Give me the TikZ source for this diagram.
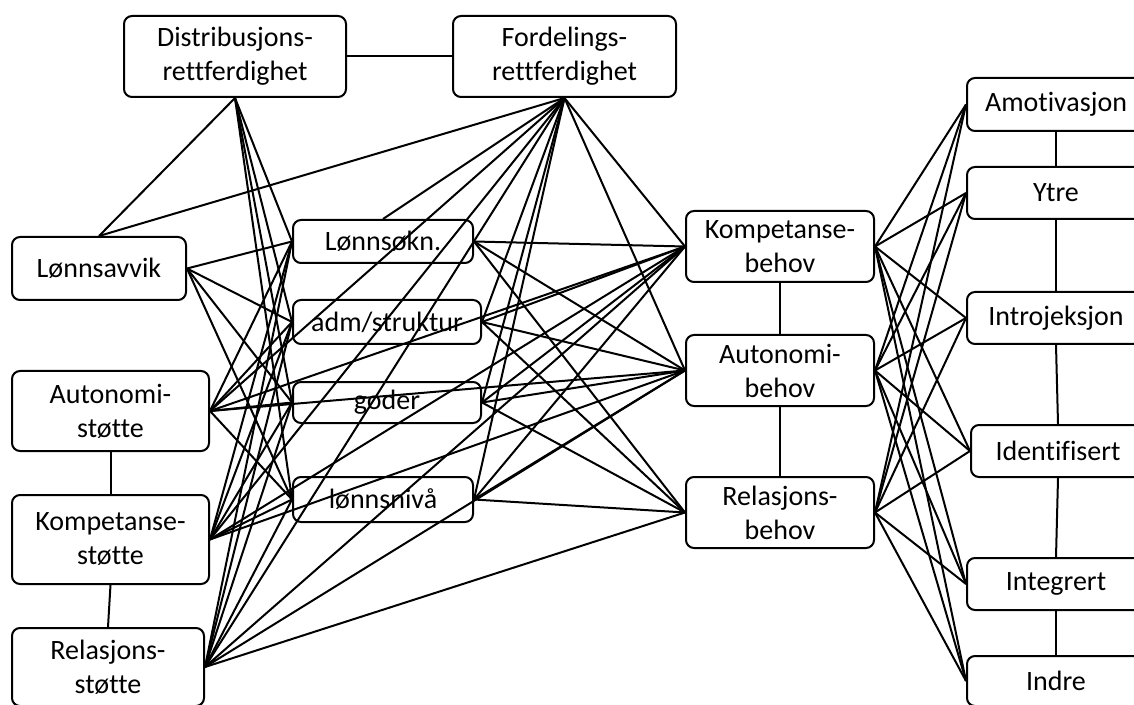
\documentclass[tikz,border=0pt]{standalone}
\usepackage{fontspec}
\setmainfont{Carlito}[Ligatures=NoCommon]
\begin{document}
\begin{tikzpicture}[x=0.5pt,y=-0.5pt,
  box/.style={draw, rounded corners=4pt, line width=1pt, align=center, inner sep=0pt,
    font=\fontsize{14}{17}\selectfont},
  link/.style={line width=1pt}]
\useasboundingbox (0,0) rectangle (1134,705);
\fill[white] (0,0) rectangle (1134,705);
\clip (0,0) rectangle (1134,705);
% top
\node[box, minimum width=111pt, minimum height=40.5pt] (D) at (235,56.5) {Distribusjons-\\rettferdighet};
\node[box, minimum width=111.5pt, minimum height=40.5pt] (F) at (564.5,56.5) {Fordelings-\\rettferdighet};
% left column
\node[box, minimum width=87pt, minimum height=31.5pt] (Lav) at (99,268.5) {Lønnsavvik};
\node[box, minimum width=98.5pt, minimum height=40pt] (AS) at (110.5,411) {Autonomi-\\støtte};
\node[box, minimum width=98.5pt, minimum height=44.5pt] (KS) at (110.5,539.5) {Kompetanse-\\støtte};
\node[box, minimum width=96pt, minimum height=39pt] (RS) at (108,667) {Relasjons-\\støtte};
% pay column
\node[box, minimum width=90pt, minimum height=21.5pt] (L) at (383,241.5) {Lønnsøkn.};
\node[box, minimum width=94pt, minimum height=22pt] (adm) at (387,322) {adm/struktur};
\node[box, minimum width=94pt, minimum height=20.5pt] (god) at (387,402.5) {goder};
\node[box, minimum width=90pt, minimum height=22.5pt] (ln) at (383,499.5) {lønnsnivå};
% needs
\node[box, minimum width=94pt, minimum height=35.5pt] (K) at (780,246.5) {Kompetanse-\\behov};
\node[box, minimum width=94pt, minimum height=35.5pt] (A) at (780,370.5) {Autonomi-\\behov};
\node[box, minimum width=94pt, minimum height=35.5pt] (R) at (780,512.5) {Relasjons-\\behov};
% motivation
\node[box, minimum width=89pt, minimum height=26.5pt] (m1) at (1056,104.5) {Amotivasjon};
\node[box, minimum width=89pt, minimum height=26pt] (m2) at (1056,193) {Ytre};
\node[box, minimum width=89pt, minimum height=26pt] (m3) at (1056,318) {Introjeksjon};
\node[box, minimum width=87pt, minimum height=26pt] (m4) at (1058,451) {Identifisert};
\node[box, minimum width=89pt, minimum height=26pt] (m5) at (1056,584) {Integrert};
\node[box, minimum width=89pt, minimum height=25pt] (m6) at (1056,681) {Indre};
% vertical / horizontal links
\draw[link] (D.east) -- (F.west);
\draw[link] (AS.south) -- (KS.north);
\draw[link] (KS.south) -- (RS.north);
\draw[link] (K.south) -- (A.north);
\draw[link] (A.south) -- (R.north);
\draw[link] (m1.south) -- (m2.north);
\draw[link] (m2.south) -- (m3.north);
\draw[link] (m3.south) -- (m4.north);
\draw[link] (m4.south) -- (m5.north);
\draw[link] (m5.south) -- (m6.north);
% justice links
\draw[link] (D.south) -- (Lav.north);
\draw[link] (F.south) -- (Lav.north);
\foreach \p in {L,adm,god,ln} \draw[link] (D.south) -- (\p.west);
\draw[link] (F.south) -- (L.north);
\foreach \p in {adm,god,ln} \draw[link] (F.south) -- (\p.east);
\foreach \s in {AS,KS,RS} \draw[link] (F.south) -- (\s.east);
\foreach \n in {K,A} \draw[link] (F.south) -- (\n.west);
% left column to pay
\foreach \s in {Lav,AS,KS,RS}
  \foreach \p in {L,adm,god,ln} \draw[link] (\s.east) -- (\p.west);
% support to needs
\foreach \n in {K,A} \draw[link] (AS.east) -- (\n.west);
\foreach \n in {K,A} \draw[link] (KS.east) -- (\n.west);
\foreach \n in {K,A,R} \draw[link] (RS.east) -- (\n.west);
% pay to needs
\foreach \p in {L,adm,god,ln}
  \foreach \n in {K,A,R} \draw[link] (\p.east) -- (\n.west);
% needs to motivation
\foreach \n in {K,A,R}
  \foreach \m in {m1,m2,m3,m4,m5,m6} \draw[link] (\n.east) -- (\m.west);
\end{tikzpicture}
\end{document}
